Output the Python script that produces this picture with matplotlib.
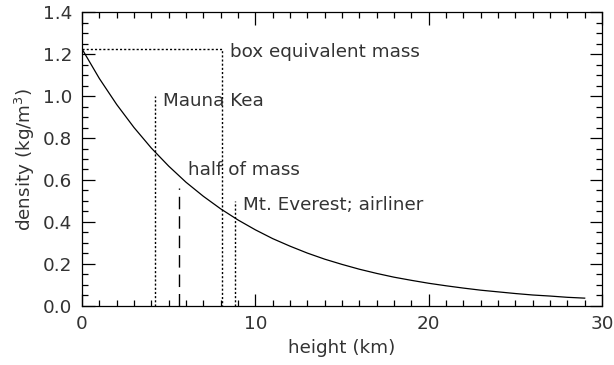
#! /usr/bin/env python3

import matplotlib
matplotlib.use('Agg')
import matplotlib.pyplot as plt
from matplotlib.ticker import MultipleLocator

# density of air vs height
height_km = [0, 1, 2, 3, 4, 5, 6, 7, 8, 9, 10, 11, 12, 13, 14, 15,
             16, 17, 18, 19, 20, 21, 22, 23, 24, 25, 26, 27, 28, 29]
density = [1.225, 1.084, 0.960, 0.850, 0.752, 0.666, 0.589, 0.522, 0.462,
           0.409, 0.362, 0.320, 0.284, 0.251, 0.222, 0.197, 0.174, 0.154,
           0.136, 0.121, 0.107, 0.095, 0.084, 0.074, 0.066, 0.058, 0.051,
           0.046, 0.040, 0.036]

# marker lines: (height, top of line)
mauna_kea = (4.2, 1.0)
half_mass = (5.6, 0.56)
box_mass = (8.1, 1.225)
everest = (8.85, 0.50)

labels = ['box equivalent mass', 'Mauna Kea', 'half of mass',
          'Mt. Everest; airliner']
label_x = [8.55, 4.67, 6.12, 9.3]
label_y = [1.21, 0.975, 0.648, 0.48]

plt.rcParams['font.family'] = 'DejaVu Sans'
txt = '#333333'
fs = 13.2

fig = plt.figure(figsize=(6.14, 3.65), dpi=100)
ax = fig.add_axes([0.1336, 0.1625, 0.8469, 0.8038])

ax.plot(height_km, density, color='black', lw=0.9)

dot = (0, (1.5, 1.5))
ax.plot([mauna_kea[0], mauna_kea[0]], [0, mauna_kea[1]], color='black', lw=1.0, linestyle=dot)
ax.plot([everest[0], everest[0]], [0, everest[1]], color='black', lw=1.0, linestyle=dot)
ax.plot([0, box_mass[0], box_mass[0]], [box_mass[1], box_mass[1], 0],
        color='black', lw=1.0, linestyle=dot)
ax.plot([half_mass[0], half_mass[0]], [0, half_mass[1]], color='black', lw=1.0,
        linestyle=(0, (9, 5)))

for s, x, y in zip(labels, label_x, label_y):
    ax.text(x, y, s, fontsize=fs, color=txt, ha='left', va='center')

ax.set_xlim(0, 30)
ax.set_ylim(0, 1.4)
ax.xaxis.set_major_locator(MultipleLocator(10))
ax.xaxis.set_minor_locator(MultipleLocator(1))
ax.yaxis.set_major_locator(MultipleLocator(0.2))
ax.yaxis.set_minor_locator(MultipleLocator(0.05))
ax.yaxis.set_major_formatter(plt.FuncFormatter(lambda v, p: '%.1f' % v))
ax.tick_params(which='both', direction='in', top=True, right=True,
               labelsize=fs, labelcolor=txt, width=0.9)
ax.tick_params(which='major', length=9, pad=7)
ax.tick_params(which='minor', length=4.5)
for sp in ax.spines.values():
    sp.set_linewidth(0.9)

ax.set_xlabel('height (km)', fontsize=fs, color=txt, labelpad=4)
ax.set_ylabel('density (kg/m$^3$)', fontsize=fs, color=txt, labelpad=4)

fig.savefig('out.png', dpi=100)
